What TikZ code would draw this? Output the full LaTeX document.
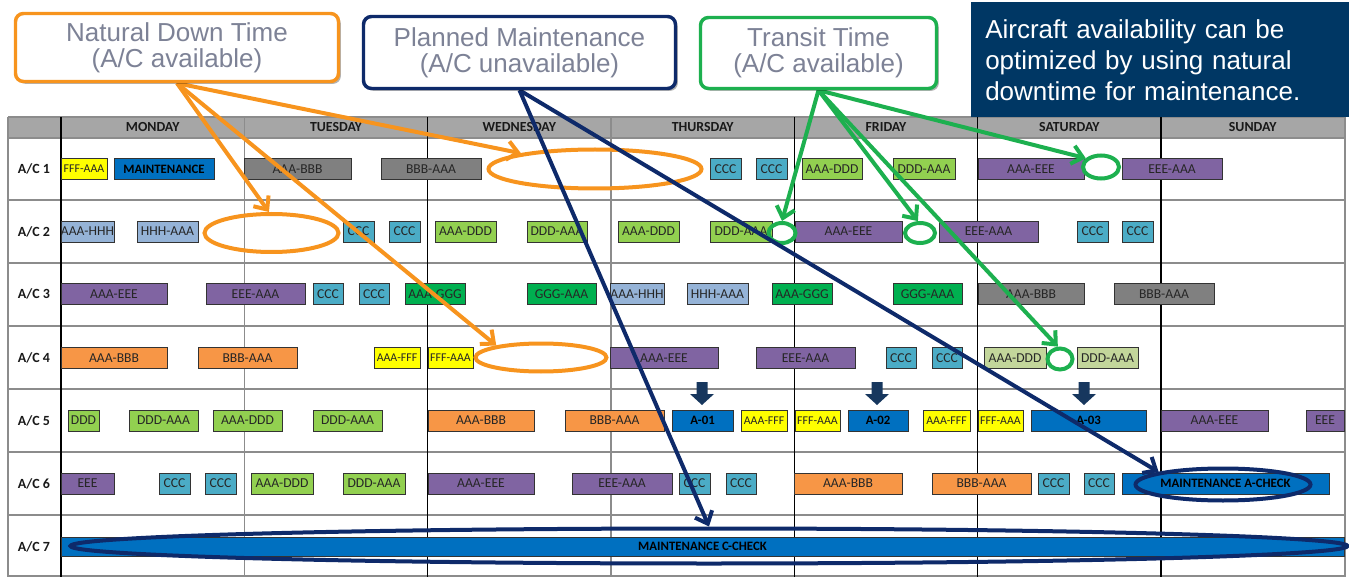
\documentclass[tikz,border=0pt]{standalone}
\usepackage{fontspec}
\setmainfont{Carlito}
\newfontfamily\calloutfont{Liberation Sans}
\usetikzlibrary{shapes.geometric,arrows.meta,shadows}

% palette
\definecolor{ndorange}{HTML}{F7941E}
\definecolor{pmnavy}{HTML}{0E2A6A}
\definecolor{ttgreen}{HTML}{1DB04F}
\definecolor{calltext}{HTML}{7D8296}
\definecolor{notebg}{HTML}{003764}
\definecolor{hdrgray}{HTML}{A6A6A6}
\definecolor{gridgray}{HTML}{8C8C8C}
\definecolor{cYellow}{HTML}{FFFF00}
\definecolor{cBlue}{HTML}{0070C0}
\definecolor{cGray}{HTML}{808080}
\definecolor{cTeal}{HTML}{4BACC6}
\definecolor{cLGreen}{HTML}{92D050}
\definecolor{cPurple}{HTML}{8064A2}
\definecolor{cLBlue}{HTML}{95B3D7}
\definecolor{cDGreen}{HTML}{00B050}
\definecolor{cOrange}{HTML}{F79646}
\definecolor{cPale}{HTML}{C3D69B}
\definecolor{blockarrow}{HTML}{17375E}

\pgfdeclarelayer{front}
\pgfsetlayers{main,front}

% one flight / maintenance slot: name, x from, x to, row centre, style, text
\newcommand\slot[6]{\node[slotbox,#5,minimum width={(#3-#2)*0.75pt}] (#1) at ({(#2+#3)/2},#4) {#6};}
% small down-pointing block arrow above a maintenance slot
\newcommand\blockdown[1]{\fill[blockarrow] (#1-5.5,382) -- (#1+5.5,382) -- (#1+5.5,394) -- (#1+12,394) -- (#1,405) -- (#1-12,394) -- (#1-5.5,394) -- cycle;}

\tikzset{
  slotbox/.style={draw=black!80, line width=0.6pt, inner sep=0pt, minimum height=15.75pt,
    font=\fontsize{10.2}{11}\selectfont, text=black!85},
  ylw/.style={fill=cYellow, font=\fontsize{8.9}{9}\selectfont},
  mnt/.style={fill=cBlue, font=\bfseries\fontsize{9.6}{10}\selectfont, text=black},
  gry/.style={fill=cGray},
  tea/.style={fill=cTeal},
  lgr/.style={fill=cLGreen},
  pur/.style={fill=cPurple},
  lbu/.style={fill=cLBlue},
  dgr/.style={fill=cDGreen},
  org/.style={fill=cOrange},
  pal/.style={fill=cPale},
  dayname/.style={font=\bfseries\fontsize{10.4}{11}\selectfont, text=black!90},
  rowlabel/.style={font=\bfseries\fontsize{10.5}{12}\selectfont, text=black!90},
  ring/.style={ellipse, draw, line width=3pt, inner sep=0pt},
  link/.style={line width=3pt, -{Straight Barb[length=8pt,width=14pt]}},
  callout/.style={draw, rounded corners=6pt, line width=2.6pt, fill=white, inner sep=0pt,
    align=center, font=\calloutfont\fontsize{19.5}{19.5}\selectfont, text=calltext,
    drop shadow={shadow xshift=1.8pt, shadow yshift=-1.8pt, opacity=0.3, fill=black}},
}

\begin{document}
\begin{tikzpicture}[x=0.75pt, y=-0.75pt]
\useasboundingbox (0,0) rectangle (1349,577);

% ---------- schedule grid ----------
\fill[hdrgray] (8,117) rectangle (1345,138);
\foreach \y in {117,138,200,263,326,389,452,515,576}
  \draw[gridgray, line width=0.8pt] (8,\y) -- (1345,\y);
\foreach \x in {244.3,611}
  \draw[gridgray, line width=0.8pt] (\x,117) -- (\x,577);
\foreach \x in {61,427.7,794.3,977.7,1161}
  \draw[black, line width=0.9pt] (\x,117) -- (\x,577);
\draw[gridgray, line width=1.6pt] (8,117) -- (8,577);
\draw[gridgray, line width=1.6pt] (1345,117) -- (1345,577);

\node[dayname] (mon) at (152.7,127.5) {MONDAY};
\node[dayname] (tue) at (336,127.5) {TUESDAY};
\node[dayname] (wed) at (519.3,127.5) {WEDNESDAY};
\node[dayname] (thu) at (702.7,127.5) {THURSDAY};
\node[dayname] (fri) at (886,127.5) {FRIDAY};
\node[dayname] (sat) at (1069.3,127.5) {SATURDAY};
\node[dayname] (sun) at (1252.7,127.5) {SUNDAY};

\node[rowlabel] (ac1) at (34,169) {A/C 1};
\node[rowlabel] (ac2) at (34,231.5) {A/C 2};
\node[rowlabel] (ac3) at (34,294) {A/C 3};
\node[rowlabel] (ac4) at (34,358) {A/C 4};
\node[rowlabel] (ac5) at (34,420.5) {A/C 5};
\node[rowlabel] (ac6) at (34,483.5) {A/C 6};
\node[rowlabel] (ac7) at (34,546.5) {A/C 7};

% ---------- A/C 1 ----------
\slot{a1}{61}{107}{169}{ylw}{FFF-AAA}
\slot{a2}{114}{214}{169}{mnt}{MAINTENANCE}
\slot{a3}{244}{351}{169}{gry}{AAA-BBB}
\slot{a4}{381}{481}{169}{gry}{BBB-AAA}
\slot{a5}{710}{741}{169}{tea}{CCC}
\slot{a6}{756}{787}{169}{tea}{CCC}
\slot{a7}{802}{862}{169}{lgr}{AAA-DDD}
\slot{a8}{893}{955}{169}{lgr}{DDD-AAA}
\slot{a9}{978}{1084}{169}{pur}{AAA-EEE}
\slot{a10}{1122}{1222}{169}{pur}{EEE-AAA}

% ---------- A/C 2 ----------
\slot{b1}{61}{114}{231.5}{lbu}{AAA-HHH}
\slot{b2}{137}{198}{231.5}{lbu}{HHH-AAA}
\slot{b3}{343}{374}{231.5}{tea}{CCC}
\slot{b4}{389}{420}{231.5}{tea}{CCC}
\slot{b5}{435}{496}{231.5}{lgr}{AAA-DDD}
\slot{b6}{527}{587}{231.5}{lgr}{DDD-AAA}
\slot{b7}{618}{679}{231.5}{lgr}{AAA-DDD}
\slot{b8}{710}{772}{231.5}{lgr}{DDD-AAA}
\slot{b9}{795}{902}{231.5}{pur}{AAA-EEE}
\slot{b10}{939}{1038}{231.5}{pur}{EEE-AAA}
\slot{b11}{1077}{1108}{231.5}{tea}{CCC}
\slot{b12}{1122}{1153}{231.5}{tea}{CCC}

% ---------- A/C 3 ----------
\slot{c1}{61}{167}{294}{pur}{AAA-EEE}
\slot{c2}{206}{305}{294}{pur}{EEE-AAA}
\slot{c3}{313}{343}{294}{tea}{CCC}
\slot{c4}{359}{389}{294}{tea}{CCC}
\slot{c5}{405}{465}{294}{dgr}{AAA-GGG}
\slot{c6}{527}{596}{294}{dgr}{GGG-AAA}
\slot{c7}{610}{664}{294}{lbu}{AAA-HHH}
\slot{c8}{687}{748}{294}{lbu}{HHH-AAA}
\slot{c9}{772}{832}{294}{dgr}{AAA-GGG}
\slot{c10}{893}{962}{294}{dgr}{GGG-AAA}
\slot{c11}{978}{1084}{294}{gry}{AAA-BBB}
\slot{c12}{1114}{1214}{294}{gry}{BBB-AAA}

% ---------- A/C 4 ----------
\slot{d1}{61}{167}{358}{org}{AAA-BBB}
\slot{d2}{198}{297}{358}{org}{BBB-AAA}
\slot{d3}{374}{420}{358}{ylw}{AAA-FFF}
\slot{d4}{428}{473}{358}{ylw}{FFF-AAA}
\slot{d5}{610}{718}{358}{pur}{AAA-EEE}
\slot{d6}{756}{855}{358}{pur}{EEE-AAA}
\slot{d7}{886}{916}{358}{tea}{CCC}
\slot{d8}{932}{962}{358}{tea}{CCC}
\slot{d9}{984}{1046}{358}{pal}{AAA-DDD}
\slot{d10}{1077}{1138}{358}{pal}{DDD-AAA}

% ---------- A/C 5 ----------
\slot{e1}{68}{99}{420.5}{lgr}{DDD}
\slot{e2}{129}{198}{420.5}{lgr}{DDD-AAA}
\slot{e3}{213}{282}{420.5}{lgr}{AAA-DDD}
\slot{e4}{313}{382}{420.5}{lgr}{DDD-AAA}
\slot{e5}{428}{534}{420.5}{org}{AAA-BBB}
\slot{e6}{565}{664}{420.5}{org}{BBB-AAA}
\slot{e7}{672}{733}{420.5}{mnt}{A-01}
\slot{e8}{741}{787}{420.5}{ylw}{AAA-FFF}
\slot{e9}{795}{840}{420.5}{ylw}{FFF-AAA}
\slot{e10}{848}{908}{420.5}{mnt}{A-02}
\slot{e11}{923}{970}{420.5}{ylw}{AAA-FFF}
\slot{e12}{978}{1023}{420.5}{ylw}{FFF-AAA}
\slot{e13}{1031}{1146}{420.5}{mnt}{A-03}
\slot{e14}{1161}{1268}{420.5}{pur}{AAA-EEE}
\slot{e15}{1306}{1344}{420.5}{pur}{EEE}
\blockdown{702}
\blockdown{877}
\blockdown{1084}

% ---------- A/C 6 ----------
\slot{f1}{61}{114}{483.5}{pur}{EEE}
\slot{f2}{159}{190}{483.5}{tea}{CCC}
\slot{f3}{205}{236}{483.5}{tea}{CCC}
\slot{f4}{251}{313}{483.5}{lgr}{AAA-DDD}
\slot{f5}{343}{405}{483.5}{lgr}{DDD-AAA}
\slot{f6}{428}{534}{483.5}{pur}{AAA-EEE}
\slot{f7}{572}{672}{483.5}{pur}{EEE-AAA}
\slot{f8}{679}{710}{483.5}{tea}{CCC}
\slot{f9}{726}{756}{483.5}{tea}{CCC}
\slot{f10}{794}{902}{483.5}{org}{AAA-BBB}
\slot{f11}{932}{1031}{483.5}{org}{BBB-AAA}
\slot{f12}{1038}{1069}{483.5}{tea}{CCC}
\slot{f13}{1084}{1114}{483.5}{tea}{CCC}
\slot{f14}{1122}{1329}{483.5}{mnt}{MAINTENANCE A-CHECK}

% ---------- A/C 7 ----------
\slot{g1}{61}{1344}{546.5}{mnt,minimum height=14.25pt}{MAINTENANCE C-CHECK}

% ---------- highlighted gaps ----------
\node[ring, draw=ndorange, minimum width={213*0.75pt}, minimum height={39*0.75pt}] (oe1) at (595,169) {};
\node[ring, draw=ndorange, minimum width={134*0.75pt}, minimum height={38*0.75pt}] (oe2) at (271.5,233) {};
\node[ring, draw=ndorange, minimum width={131*0.75pt}, minimum height={28*0.75pt}] (oe4) at (541,357.5) {};
\node[ring, draw=ttgreen, minimum width={27*0.75pt}, minimum height={20*0.75pt}] (ge1) at (782,233) {};
\node[ring, draw=ttgreen, minimum width={30*0.75pt}, minimum height={20*0.75pt}] (ge2) at (920,233) {};
\node[ring, draw=ttgreen, minimum width={36*0.75pt}, minimum height={23*0.75pt}] (ge3) at (1101,167) {};
\node[ring, draw=ttgreen, minimum width={25*0.75pt}, minimum height={21*0.75pt}] (ge4) at (1060,359) {};
\node[ring, draw=pmnavy, minimum width={175*0.75pt}, minimum height={32*0.75pt}] (ae) at (1223,484.5) {};
\node[ring, draw=pmnavy, minimum width={1277*0.75pt}, minimum height={35*0.75pt}] (ce) at (709,546) {};

% ---------- callouts (kept on the front layer) ----------
\begin{pgfonlayer}{front}
\node[callout, draw=ndorange, minimum width={323*0.75pt}, minimum height={68*0.75pt}] (nd) at (177,47.5) {Natural Down Time\\(A/C available)};
\node[callout, draw=pmnavy, minimum width={312*0.75pt}, minimum height={72*0.75pt}] (pm) at (519.5,52.5) {Planned Maintenance\\(A/C unavailable)};
\node[callout, draw=ttgreen, minimum width={236*0.75pt}, minimum height={71*0.75pt}] (tt) at (818.5,53) {Transit Time\\(A/C available)};
\node[fill=notebg, anchor=north west, inner xsep=10.5pt, inner ysep=0pt,
      minimum height={115*0.75pt}, text width=262.5pt, align=left, text=white,
      font=\calloutfont\fontsize{19.5}{23.25}\selectfont] (note) at (971,2)
  {Aircraft availability can be\\optimized by using natural\\downtime for maintenance.};
\end{pgfonlayer}

% ---------- connectors ----------
\draw[link, ndorange] (nd.south) -- (oe1.168);
\draw[link, ndorange] (nd.south) -- (oe2.97);
\draw[link, ndorange] (nd.south) -- (oe4.165);
\draw[link, pmnavy] (pm.south) -- (ce.north);
\draw[link, pmnavy] (pm.south) -- (ae.169);
\draw[link, ttgreen] (tt.south) -- (ge1.north);
\draw[link, ttgreen] (tt.south) -- (ge2.100);
\draw[link, ttgreen] (tt.south) -- (ge3.150);
\draw[link, ttgreen] (tt.south) -- (ge4.100);
\end{tikzpicture}
\end{document}
